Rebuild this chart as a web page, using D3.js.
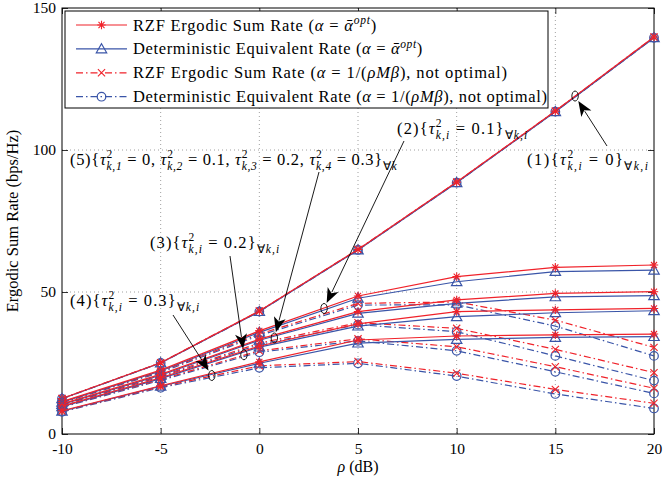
<!DOCTYPE html>
<html><head><meta charset="utf-8">
<script src="https://cdn.jsdelivr.net/npm/d3@7"></script>
<style>body{margin:0;background:#fff}svg{display:block}text{white-space:pre}</style>
</head><body>
<svg id="c" width="663" height="480"></svg>
<script>
// ---------- data ----------
const rho = [-10, -5, 0, 5, 10, 15, 20];
const xTicks = [-10, -5, 0, 5, 10, 15, 20];
const yTicks = [0, 50, 100, 150];
// case (1) tau=0
const rzfOpt1 = [12.5, 25.1, 43.3, 65.0, 88.7, 113.7, 139.8];
const deOpt1  = [12.4, 25.0, 43.1, 64.8, 88.5, 113.5, 139.5];
const rzfNon1 = [12.5, 25.1, 43.3, 65.0, 88.7, 113.7, 139.8];
const deNon1  = [12.4, 25.0, 43.1, 64.8, 88.5, 113.5, 139.5];
// case (2) tau=0.1
const rzfOpt2 = [11.4, 22.5, 36.3, 48.6, 55.4, 58.7, 59.5];
const deOpt2  = [11.2, 22.2, 35.8, 47.8, 53.6, 57.2, 57.7];
const rzfNon2 = [11.2, 22.0, 35.2, 46.0, 46.5, 40.1, 30.5];
const deNon2  = [11.0, 21.7, 34.7, 45.4, 45.5, 38.0, 27.5];
// case (5) mixed
const rzfOpt5 = [10.6, 21.0, 33.4, 43.1, 47.2, 49.5, 50.1];
const deOpt5  = [10.4, 20.7, 33.0, 42.5, 46.0, 48.3, 48.7];
const rzfNon5 = [10.4, 20.4, 32.0, 39.2, 37.2, 29.8, 21.6];
const deNon5  = [10.2, 20.1, 31.5, 38.5, 36.0, 27.5, 18.8];
// case (3) tau=0.2
const rzfOpt3 = [9.8, 19.8, 31.0, 38.8, 43.1, 43.7, 44.2];
const deOpt3  = [9.6, 19.5, 30.6, 38.0, 41.3, 42.7, 43.4];
const rzfNon3 = [9.6, 19.2, 29.3, 33.5, 30.7, 23.7, 16.1];
const deNon3  = [9.4, 18.9, 28.8, 32.8, 29.3, 21.9, 14.3];
// case (4) tau=0.3
const rzfOpt4 = [8.2, 17.0, 25.4, 33.1, 34.5, 34.9, 35.2];
const deOpt4  = [8.0, 16.8, 24.9, 32.0, 33.3, 34.0, 34.3];
const rzfNon4 = [8.0, 16.6, 24.0, 25.5, 21.4, 15.7, 10.8];
const deNon4  = [7.8, 16.3, 23.3, 24.9, 20.4, 14.1, 9.0];

const RED = "#f0222a", BLUE = "#3a55a8";
const serif = "'Liberation Serif','Times New Roman',serif";

const styles = {
  rzfOpt: {color: RED, dash: null, marker: "star"},
  deOpt:  {color: BLUE, dash: null, marker: "tri"},
  rzfNon: {color: RED, dash: "7,3,1.5,3", marker: "x"},
  deNon:  {color: BLUE, dash: "7,3,1.5,3", marker: "circ"}
};
const seriesList = [
  ["deNon", deNon1], ["rzfNon", rzfNon1], ["deOpt", deOpt1], ["rzfOpt", rzfOpt1],
  ["deNon", deNon2], ["rzfNon", rzfNon2], ["deOpt", deOpt2], ["rzfOpt", rzfOpt2],
  ["deNon", deNon5], ["rzfNon", rzfNon5], ["deOpt", deOpt5], ["rzfOpt", rzfOpt5],
  ["deNon", deNon3], ["rzfNon", rzfNon3], ["deOpt", deOpt3], ["rzfOpt", rzfOpt3],
  ["deNon", deNon4], ["rzfNon", rzfNon4], ["deOpt", deOpt4], ["rzfOpt", rzfOpt4]
];

// ---------- layout ----------
const L = 62, R = 654, T = 8, B = 434;
const svg = d3.select("#c");
const x = d3.scaleLinear().domain([-10, 20]).range([L, R]);
const y = d3.scaleLinear().domain([0, 150]).range([B, T]);

// grid
const grid = svg.append("g").attr("stroke", "#888").attr("stroke-width", 0.8).attr("stroke-dasharray", "1,3");
grid.selectAll(".gx").data(xTicks.slice(1, -1)).join("line")
  .attr("x1", d => x(d)).attr("x2", d => x(d)).attr("y1", T).attr("y2", B);
grid.selectAll(".gy").data(yTicks.slice(1, -1)).join("line")
  .attr("y1", d => y(d)).attr("y2", d => y(d)).attr("x1", L).attr("x2", R);

// axes
const ax = svg.append("g").attr("transform", `translate(0,${B})`)
  .call(d3.axisBottom(x).tickValues(xTicks).tickSize(-6).tickPadding(9).tickFormat(d => String(d)));
const ay = svg.append("g").attr("transform", `translate(${L},0)`)
  .call(d3.axisLeft(y).tickValues(yTicks).tickSize(-6).tickPadding(6).tickFormat(d => String(d)));
const axT = svg.append("g").attr("transform", `translate(0,${T})`)
  .call(d3.axisTop(x).tickValues(xTicks).tickSize(-6).tickFormat(""));
const ayR = svg.append("g").attr("transform", `translate(${R},0)`)
  .call(d3.axisRight(y).tickValues(yTicks).tickSize(-6).tickFormat(""));
[ax, ay, axT, ayR].forEach(g => {
  g.select(".domain").remove();
  g.selectAll("line").attr("stroke", "#000").attr("stroke-width", 0.8);
  g.selectAll("text").attr("font-family", serif).attr("font-size", 15.5).attr("fill", "#000");
});
svg.append("rect").attr("x", L).attr("y", T).attr("width", R - L).attr("height", B - T)
  .attr("fill", "none").attr("stroke", "#000").attr("stroke-width", 1);

// ---------- series ----------
function marker(g, type, cx, cy, color) {
  if (type === "star") {
    const s = 4.2, d = s * 0.72;
    g.append("path").attr("d", `M${cx-s},${cy}H${cx+s}M${cx},${cy-s}V${cy+s}M${cx-d},${cy-d}L${cx+d},${cy+d}M${cx-d},${cy+d}L${cx+d},${cy-d}`)
      .attr("stroke", color).attr("stroke-width", 1.1).attr("fill", "none");
  } else if (type === "tri") {
    const s = 5.2;
    g.append("path").attr("d", `M${cx},${cy-s}L${cx+s},${cy+s*0.75}L${cx-s},${cy+s*0.75}Z`)
      .attr("stroke", color).attr("stroke-width", 1.2).attr("fill", "none");
  } else if (type === "x") {
    const s = 3.6;
    g.append("path").attr("d", `M${cx-s},${cy-s}L${cx+s},${cy+s}M${cx-s},${cy+s}L${cx+s},${cy-s}`)
      .attr("stroke", color).attr("stroke-width", 1.1).attr("fill", "none");
  } else {
    g.append("circle").attr("cx", cx).attr("cy", cy).attr("r", 4.3)
      .attr("stroke", color).attr("stroke-width", 1.2).attr("fill", "none");
  }
}
const line = d3.line().x((d, i) => x(rho[i])).y(d => y(d));
const plot = svg.append("g");
seriesList.forEach(([k, vals]) => {
  const st = styles[k];
  const g = plot.append("g");
  g.append("path").attr("d", line(vals)).attr("fill", "none").attr("stroke", st.color)
    .attr("stroke-width", 1.2).attr("stroke-dasharray", st.dash);
  vals.forEach((v, i) => marker(g, st.marker, x(rho[i]), y(v), st.color));
});

// ---------- rich text (fitted to a target width by letter spacing) ----------
function richOnce(sel, px, py, parts, size, ls) {
  const t = sel.append("text").attr("x", px).attr("y", py).attr("font-size", size)
    .attr("font-family", serif).attr("fill", "#000").attr("letter-spacing", ls || 0);
  let cur = 0, lastSup = null;
  parts.forEach(p => {
    const target = p.sup ? -0.4 * size : p.sub ? 0.32 * size : 0;
    const ts = t.append("tspan").text(p.t).attr("dy", target - cur);
    cur = target;
    if (p.sup || p.sub) ts.attr("font-size", size * 0.7);
    if (p.i) ts.attr("font-style", "italic");
    if (p.stack && lastSup) ts.attr("dx", -lastSup.node().getComputedTextLength());
    if (p.sup) lastSup = ts;
  });
  return t;
}
function rich(sel, px, py, parts, size, width) {
  let t = richOnce(sel, px, py, parts, size, 0);
  if (width) {
    const w = t.node().getBBox().width;
    const n = parts.filter(p => !p.stack).map(p => p.t).join("").length;
    t.remove();
    t = richOnce(sel, px, py, parts, size, (width - w) / Math.max(1, n - 1));
  }
  return t;
}
const tau = (sub) => [{t: "τ", i: 1}, {t: "2", sup: 1}, {t: sub, sub: 1, i: 1, stack: 1}];

// ---------- legend ----------
const legendLabels = [
  [{t: "RZF Ergodic Sum Rate ("}, {t: "α", i: 1}, {t: " = "}, {t: "α\u0304", i: 1}, {t: "opt", sup: 1, i: 1}, {t: ")"}],
  [{t: "Deterministic Equivalent Rate ("}, {t: "α", i: 1}, {t: " = "}, {t: "α\u0304", i: 1}, {t: "opt", sup: 1, i: 1}, {t: ")"}],
  [{t: "RZF Ergodic Sum Rate ("}, {t: "α", i: 1}, {t: " = 1/("}, {t: "ρMβ", i: 1}, {t: "), not optimal)"}],
  [{t: "Deterministic Equivalent Rate ("}, {t: "α", i: 1}, {t: " = 1/("}, {t: "ρMβ", i: 1}, {t: "), not optimal)"}]
];
const legendWidths = [244, 290, 374, 414];
const legendKeys = ["rzfOpt", "deOpt", "rzfNon", "deNon"];
const lg = svg.append("g");
lg.append("rect").attr("x", 65).attr("y", 11).attr("width", 483).attr("height", 97)
  .attr("fill", "#fff").attr("stroke", "#000").attr("stroke-width", 1);
legendKeys.forEach((k, i) => {
  const st = styles[k], ly = 25 + i * 23.9;
  lg.append("line").attr("x1", 76).attr("x2", 127).attr("y1", ly).attr("y2", ly)
    .attr("stroke", st.color).attr("stroke-width", 1.2).attr("stroke-dasharray", st.dash);
  marker(lg, st.marker, 101.5, ly, st.color);
  rich(lg, 133, ly + 5.5, legendLabels[i], 16.5, legendWidths[i]);
});

// ---------- annotations ----------
const ann = svg.append("g");
const annotations = [
  {parts: [{t: "(1){"}, ...tau("k,i"), {t: " = 0}"}, {t: "∀", sub: 1}, {t: "k,i", sub: 1, i: 1}], tx: 527, ty: 165, w: 118,
   at: [16, 119], from: [607, 146]},
  {parts: [{t: "(2){"}, ...tau("k,i"), {t: " = 0.1}"}, {t: "∀", sub: 1}, {t: "k,i", sub: 1, i: 1}], tx: 397, ty: 134, w: 128,
   at: [3.28, 44.2], from: [404, 141]},
  {parts: [{t: "(5){"}, ...tau("k,1"), {t: " = 0, "}, ...tau("k,2"), {t: " = 0.1, "}, ...tau("k,3"), {t: " = 0.2, "}, ...tau("k,4"), {t: " = 0.3}"}, {t: "∀", sub: 1}, {t: "k", sub: 1, i: 1}], tx: 70, ty: 165, w: 322,
   at: [0.76, 33.8], from: [319, 172]},
  {parts: [{t: "(3){"}, ...tau("k,i"), {t: " = 0.2}"}, {t: "∀", sub: 1}, {t: "k,i", sub: 1, i: 1}], tx: 150, ty: 248, w: 127,
   at: [-0.78, 27.9], from: [230, 256]},
  {parts: [{t: "(4){"}, ...tau("k,i"), {t: " = 0.3}"}, {t: "∀", sub: 1}, {t: "k,i", sub: 1, i: 1}], tx: 70, ty: 306, w: 127,
   at: [-2.41, 20.6], from: [173, 315]}
];
annotations.forEach(a => {
  const ex = x(a.at[0]), ey = y(a.at[1]);
  ann.append("ellipse").attr("cx", ex).attr("cy", ey).attr("rx", 3.2).attr("ry", 5)
    .attr("fill", "none").attr("stroke", "#000").attr("stroke-width", 0.9);
  const [fx, fy] = a.from;
  const dx = ex - fx, dy = ey - fy, len = Math.hypot(dx, dy);
  const ux = dx / len, uy = dy / len;
  const tipX = ex - ux * 6, tipY = ey - uy * 6;
  const hl = 15, hw = 6;
  const bx = tipX - ux * hl, by = tipY - uy * hl;
  ann.append("line").attr("x1", fx).attr("y1", fy).attr("x2", bx + ux * 3).attr("y2", by + uy * 3)
    .attr("stroke", "#000").attr("stroke-width", 0.9);
  ann.append("path").attr("d", `M${tipX},${tipY}L${bx - uy * hw},${by + ux * hw}L${bx + ux * 4},${by + uy * 4}L${bx + uy * hw},${by - ux * hw}Z`)
    .attr("fill", "#000");
  rich(ann, a.tx, a.ty, a.parts, 16.5, a.w);
});

// ---------- axis titles ----------
svg.append("text").attr("x", (L + R) / 2).attr("y", 472).attr("text-anchor", "middle")
  .attr("font-family", serif).attr("font-size", 16)
  .call(t => { t.append("tspan").text("ρ").attr("font-style", "italic"); t.append("tspan").text(" (dB)"); });
svg.append("text").attr("transform", `translate(18,${(T + B) / 2}) rotate(-90)`).attr("text-anchor", "middle")
  .attr("font-family", serif).attr("font-size", 16.5).text("Ergodic Sum Rate (bps/Hz)");
</script>
</body></html>
